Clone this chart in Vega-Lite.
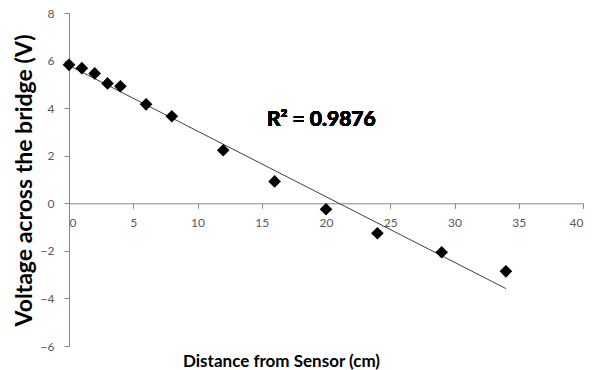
{
  "$schema": "https://vega.github.io/schema/vega-lite/v6.json",
  "width": 514,
  "height": 333,
  "autosize": {"type": "none"},
  "padding": {"left": 69, "top": 13, "right": 25, "bottom": 24},
  "background": "white",
  "config": {"view": {"stroke": null}, "font": "Lato"},
  "data": {"values": [
    {"distance": 0, "voltage": 5.82},
    {"distance": 1, "voltage": 5.68},
    {"distance": 2, "voltage": 5.46},
    {"distance": 3, "voltage": 5.04},
    {"distance": 4, "voltage": 4.92},
    {"distance": 6, "voltage": 4.16},
    {"distance": 8, "voltage": 3.66},
    {"distance": 12, "voltage": 2.23},
    {"distance": 16, "voltage": 0.92},
    {"distance": 20, "voltage": -0.25},
    {"distance": 24, "voltage": -1.26},
    {"distance": 29, "voltage": -2.06},
    {"distance": 34, "voltage": -2.86}
  ]},
  "layer": [
    {
      "transform": [{"regression": "voltage", "on": "distance", "extent": [0, 34]}],
      "mark": {"type": "line", "color": "#404040", "strokeWidth": 1},
      "encoding": {
        "x": {"field": "distance", "type": "quantitative"},
        "y": {"field": "voltage", "type": "quantitative"}
      }
    },
    {
      "mark": {"type": "point", "shape": "diamond", "filled": true, "color": "black", "size": 160, "opacity": 1},
      "encoding": {
        "x": {
          "field": "distance", "type": "quantitative",
          "scale": {"domain": [0, 40], "nice": false, "zero": false},
          "axis": {
            "orient": "bottom", "offset": -142.7, "values": [0, 5, 10, 15, 20, 25, 30, 35, 40],
            "title": "Distance from Sensor (cm)", "titleFontSize": 17, "titleFontWeight": "bold", "titleColor": "black",
            "titleX": 212, "titleY": 163, "titleBaseline": "alphabetic",
            "labelFontSize": 12, "labelColor": "#595959", "labelPadding": 9,
            "domainColor": "#888888", "tickColor": "#888888", "tickSize": 5, "grid": false
          }
        },
        "y": {
          "field": "voltage", "type": "quantitative",
          "scale": {"domain": [-6, 8], "nice": false, "zero": false},
          "axis": {
            "values": [-6, -4, -2, 0, 2, 4, 6, 8],
            "title": "Voltage across the bridge (V)", "titleFontSize": 23, "titleFontWeight": "bold", "titleColor": "black",
            "titleX": -33, "titleY": 167,
            "labelFontSize": 12, "labelColor": "#595959", "labelPadding": 10,
            "domainColor": "#888888", "tickColor": "#888888", "tickSize": 5, "grid": false
          }
        }
      }
    },
    {
      "mark": {"type": "text", "text": "R² = 0.9876", "fontSize": 21, "fontWeight": "bold", "align": "left", "baseline": "alphabetic", "color": "black"},
      "encoding": {
        "x": {"datum": 15.4, "type": "quantitative"},
        "y": {"datum": 3.24, "type": "quantitative"}
      }
    }
  ]
}
